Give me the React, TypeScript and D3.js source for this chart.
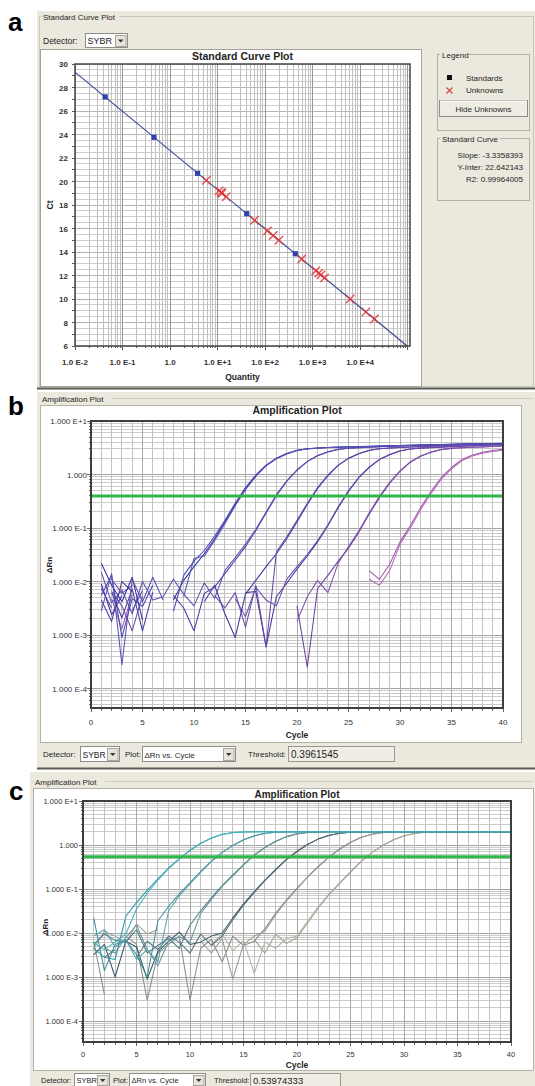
import React from 'react';
import * as d3 from 'd3';

const _ = null;

// ---------- Panel a : standard curve ----------
const stdQuantity = [0.043, 0.46, 3.8, 41, 432];
const stdCt = [27.2, 23.76, 20.7, 17.26, 13.85];
const unkQuantity = [5.8, 10.8, 11.9, 12.4, 15.2, 60, 112, 148, 195, 590, 1170, 1350, 1500, 1780, 6150, 13200, 19900];
const unkCt = [20.1, 19.2, 19.06, 19.0, 18.7, 16.7, 15.8, 15.4, 15.0, 13.4, 12.4, 12.2, 12.05, 11.8, 10.0, 8.9, 8.3];
const fitSlope = -3.3358393;
const fitIntercept = 22.642143;
const fitR2 = 0.99964005;
const ctTicks = [6, 8, 10, 12, 14, 16, 18, 20, 22, 24, 26, 28, 30];
const qtyTicks = [1e-2, 1e-1, 1, 1e1, 1e2, 1e3, 1e4];
const qtyTickLabels = ['1.0 E-2', '1.0 E-1', '1.0', '1.0 E+1', '1.0 E+2', '1.0 E+3', '1.0 E+4'];

// ---------- Amplification plots (ΔRn per cycle 1..40; null = not shown) ----------
const cycleTicks = [0, 5, 10, 15, 20, 25, 30, 35, 40];
const drnTicks = [10, 1, 0.1, 0.01, 0.001, 0.0001];
const drnTickLabels = ['1.000 E+1', '1.000', '1.000 E-1', '1.000 E-2', '1.000 E-3', '1.000 E-4'];
const thresholdB = 0.3961545;
const thresholdC = 0.53974333;

const b1a = [0.022,0.0085,0.0042,0.012,0.0019,_,_,0.0045,0.0105,0.019,0.033,0.063,0.13,0.275,0.55,0.95,1.48,2.0,2.45,2.82,3.02,3.12,3.2,3.24,3.28,3.31,3.35,3.39,3.43,3.47,3.5,3.55,3.58,3.63,3.67,3.7,3.72,3.75,3.78,3.8];
const b1b = [0.0055,0.013,0.0009,0.0048,0.0034,0.0085,_,0.0028,0.013,0.024,0.038,0.07,0.14,0.29,0.57,0.98,1.5,2.02,2.48,2.84,3.04,3.14,3.21,3.25,3.29,3.33,3.37,3.41,3.45,3.49,3.53,3.56,3.6,3.64,3.68,3.71,3.74,3.77,3.8,3.83];
const b1c = [0.0028,0.014,0.00028,0.011,0.0042,0.012,0.0045,_,0.0052,0.027,0.03,0.058,0.12,0.26,0.52,0.92,1.45,1.96,2.42,2.8,3.0,3.1,3.18,3.22,3.26,3.3,3.34,3.38,3.42,3.45,3.49,3.53,3.56,3.6,3.64,3.68,3.7,3.73,3.76,3.79];
const b2a = [_,0.0062,0.0021,0.0072,0.0012,0.0063,_,0.0055,0.0032,0.0012,0.006,0.0079,0.014,0.025,0.045,0.089,0.19,0.4,0.74,1.2,1.74,2.24,2.63,2.95,3.09,3.16,3.24,3.3,3.36,3.42,3.47,3.52,3.56,3.6,3.64,3.67,3.7,3.72,3.74,3.76];
const b2b = [0.015,0.004,0.007,0.0025,0.01,0.0045,0.0052,0.011,0.0058,0.0035,0.0095,0.0048,0.016,0.028,0.05,0.095,0.2,0.42,0.76,1.22,1.76,2.26,2.65,2.96,3.1,3.18,3.25,3.31,3.37,3.43,3.48,3.53,3.57,3.61,3.65,3.68,3.71,3.73,3.75,3.77];
const b3a = [0.009,0.0024,0.0055,_,0.0015,_,_,_,_,_,0.0042,0.0085,0.0025,0.0009,0.0058,0.0105,0.019,0.033,0.063,0.13,0.275,0.55,0.95,1.48,2.0,2.45,2.82,3.02,3.12,3.2,3.26,3.32,3.38,3.44,3.5,3.55,3.6,3.64,3.68,3.72];
const b3b = [_,0.011,0.006,0.0085,_,0.0035,_,_,0.0028,_,_,0.0055,0.0032,0.0062,0.0014,0.0085,0.0006,0.036,0.068,0.14,0.29,0.57,0.98,1.5,2.02,2.47,2.83,3.03,3.13,3.21,3.27,3.33,3.39,3.45,3.51,3.56,3.61,3.65,3.69,3.73];
const b4a = [0.0045,0.0018,0.01,0.0065,_,_,_,_,_,_,_,_,_,_,0.0062,0.0065,0.0006,0.0052,0.0093,0.017,0.03,0.055,0.11,0.24,0.48,0.87,1.35,1.9,2.34,2.75,2.99,3.11,3.18,3.25,3.32,3.38,3.44,3.5,3.55,3.6];
const b4b = [_,0.0065,0.0035,0.0012,0.0055,_,_,_,_,_,_,_,_,0.0048,0.0022,0.0078,0.0045,0.0035,0.011,0.019,0.032,0.058,0.115,0.25,0.5,0.89,1.37,1.92,2.36,2.77,3.0,3.12,3.19,3.26,3.33,3.39,3.45,3.51,3.56,3.61];
const b5a = [0.0075,0.0032,_,0.0028,0.0068,_,_,_,_,_,_,_,_,_,_,_,_,_,_,0.0035,0.00025,0.0074,0.013,0.024,0.042,0.083,0.18,0.37,0.69,1.15,1.7,2.19,2.6,2.92,3.08,3.15,3.22,3.28,3.34,3.4];
const b5b = [_,_,_,_,_,_,_,_,_,_,_,_,_,_,_,_,_,_,_,0.0018,0.0052,0.0105,0.0062,0.022,0.045,0.088,0.19,0.39,0.71,1.17,1.72,2.21,2.62,2.93,3.09,3.16,3.23,3.29,3.35,3.41];
const b6a = [_,0.0048,0.0013,0.0058,_,0.012,_,_,_,_,_,_,_,_,_,_,_,_,_,_,_,_,_,_,_,_,0.016,0.011,0.021,0.055,0.11,0.24,0.48,0.87,1.35,1.9,2.3,2.6,2.8,2.95];
const b6b = [_,_,_,_,_,_,_,_,_,_,_,_,_,_,_,_,_,_,_,_,_,_,_,_,_,_,0.011,0.0085,0.016,0.05,0.1,0.22,0.44,0.82,1.28,1.8,2.22,2.5,2.7,2.85];

const c1a = [0.0045,0.0028,0.0025,0.024,0.049,0.093,0.17,0.3,0.49,0.76,1.1,1.45,1.75,1.92,1.98,2.0,2.01,2.0,2.0,2.01,2.01,2.0,2.0,2.01,2.01,2.0,2.0,2.01,2.01,2.0,2.0,2.01,2.01,2.0,2.0,2.01,2.01,2.0,2.0,2.01];
const c1b = [0.006,0.0042,0.0062,0.0095,0.035,0.08,0.16,0.29,0.48,0.75,1.08,1.43,1.73,1.91,1.97,1.99,2.0,2.02,2.0,1.99,2.0,2.01,2.0,1.99,2.0,2.01,2.02,2.0,1.99,2.0,2.01,2.0,1.99,2.0,2.01,2.0,1.99,2.0,2.01,2.0];
const c2a = [0.022,0.0014,0.0055,0.0068,0.0032,0.001,0.019,0.04,0.078,0.14,0.25,0.43,0.68,0.98,1.32,1.62,1.84,1.95,1.99,2.0,2.0,2.01,2.0,2.0,2.01,2.0,2.0,2.01,2.0,2.0,2.01,2.0,2.0,2.01,2.0,2.0,2.01,2.0,2.0,2.01];
const c2b = [0.0085,0.012,0.0048,0.0072,0.0025,0.0042,0.0022,0.032,0.07,0.13,0.24,0.42,0.67,0.97,1.3,1.6,1.83,1.94,1.98,1.99,2.0,1.99,2.01,2.0,1.99,2.0,1.99,2.01,2.0,1.99,2.0,1.99,2.01,2.0,1.99,2.0,1.99,2.01,2.0,1.99];
const c3a = [0.0055,0.0095,0.0068,0.0062,0.012,0.0035,0.0052,0.0075,0.0045,0.015,0.032,0.063,0.12,0.21,0.36,0.59,0.88,1.22,1.55,1.8,1.93,1.98,2.0,2.0,2.01,2.0,2.0,2.01,2.0,2.0,2.01,2.0,2.0,2.01,2.0,2.0,2.01,2.0,2.0,2.01];
const c3b = [_,0.0045,0.0035,0.008,0.015,0.0042,0.0018,0.0065,0.0082,0.0062,0.028,0.058,0.115,0.2,0.35,0.58,0.87,1.2,1.53,1.79,1.92,1.97,1.99,2.0,1.99,2.01,2.0,1.99,2.0,1.99,2.01,2.0,1.99,2.0,1.99,2.01,2.0,1.99,2.0,1.99];
const c4a = [0.0032,0.0055,0.001,0.0065,0.0048,0.0009,0.0038,0.0065,0.0105,0.0055,0.0062,0.0085,0.01,0.022,0.046,0.087,0.16,0.28,0.47,0.72,1.04,1.38,1.67,1.86,1.96,1.99,2.0,2.0,2.01,2.0,2.0,2.01,2.0,2.0,2.01,2.0,2.0,2.01,2.0,2.0];
const c4b = [_,0.0028,0.0042,_,0.0028,0.0065,0.0042,0.0085,0.0062,0.0035,0.0095,0.0052,0.0085,0.02,0.043,0.083,0.155,0.27,0.46,0.71,1.02,1.36,1.65,1.85,1.95,1.98,1.99,2.0,1.99,2.01,2.0,1.99,2.0,1.99,2.01,2.0,1.99,2.0,1.99,2.01];
const c5a = [0.0065,0.0004,_,0.0085,0.0055,0.0003,0.0035,0.0055,0.0085,0.0003,0.0045,0.0072,0.0022,0.0085,0.0052,0.0065,0.0126,0.028,0.056,0.105,0.19,0.33,0.54,0.82,1.16,1.5,1.76,1.92,1.98,2.0,2.0,2.01,2.0,2.0,2.01,2.0,2.0,2.01,2.0,2.0];
const c5b = [0.0045,0.011,0.0085,0.006,0.016,0.0095,0.012,_,_,_,0.0065,0.0035,0.0075,0.0009,0.0055,0.0085,0.011,0.026,0.053,0.1,0.185,0.32,0.53,0.8,1.14,1.48,1.75,1.91,1.97,1.99,2.0,1.99,2.01,2.0,1.99,2.0,1.99,2.01,2.0,1.99];
const c6a = [_,_,_,_,_,_,_,_,_,_,_,0.0055,0.0095,0.004,0.0068,0.0012,0.0062,0.0045,0.0075,0.0085,0.019,0.04,0.078,0.14,0.25,0.43,0.68,0.98,1.32,1.62,1.84,1.95,1.99,2.0,2.0,2.01,2.0,2.0,2.01,2.0];
const c6b = [_,_,_,_,_,_,_,_,_,_,_,_,_,_,_,0.0072,0.0035,0.0095,0.0058,0.0078,0.017,0.037,0.074,0.135,0.24,0.42,0.67,0.97,1.3,1.6,1.83,1.94,1.98,1.99,2.0,1.99,2.01,2.0,1.99,2.0];

const curvesB = [
  { values: b6a, color: '#a456ac' }, { values: b6b, color: '#b46cb8' },
  { values: b5a, color: '#6a40a2' }, { values: b5b, color: '#8050aa' },
  { values: b4a, color: '#4b36a0' }, { values: b4b, color: '#6e4aaa' },
  { values: b3a, color: '#3c34a0' }, { values: b3b, color: '#6a48a8' },
  { values: b2a, color: '#4a3ca6' }, { values: b2b, color: '#6250b0' },
  { values: b1a, color: '#3232a6' }, { values: b1b, color: '#4646b4' }, { values: b1c, color: '#5a52b4' },
];
const curvesC = [
  { values: c6a, color: '#b4b4a4' }, { values: c6b, color: '#a4a496' },
  { values: c5a, color: '#888c86' }, { values: c5b, color: '#9a9c94' },
  { values: c4a, color: '#3a5a68' }, { values: c4b, color: '#566e7a' },
  { values: c3a, color: '#4a7c88' }, { values: c3b, color: '#6a949c' },
  { values: c2a, color: '#3a8c98' }, { values: c2b, color: '#58a4ac' },
  { values: c1a, color: '#2a9aa6' }, { values: c1b, color: '#48b2ba' },
];

const FONT = "'Liberation Sans', Arial, 'DejaVu Sans', sans-serif";
const BG = '#ebe9dd';
const INK = '#1e1e1e';

function Dropdown({ x, y, w, h, text, size, arrow = true }: any) {
  return (
    <g>
      <rect x={x + 0.5} y={y + 0.5} width={w} height={h} fill="#fff" stroke="#8c8c88" />
      <text x={x + 2.5} y={y + h - 3.5} fontSize={size} fill={INK}>{text}</text>
      {arrow && (
        <g>
          <rect x={x + w - 11.5} y={y + 2.5} width={10.5} height={h - 3} fill="#e6e4d8" stroke="#a8a69c" />
          <path d={`M${x + w - 9},${y + h / 2 - 0.5} h5.5 l-2.75,3 z`} fill="#333" />
        </g>
      )}
    </g>
  );
}

function PanelA() {
  const L = 75, R = 410, T = 64, B = 346;
  const qMax = 1.12e5;
  const x = d3.scaleLog().domain([1e-2, qMax]).range([L, R]);
  const y = d3.scaleLinear().domain([6, 30]).range([B, T]);
  const vGrid: { v: number; major: boolean }[] = [];
  for (let d = -2; d <= 5; d++) {
    for (let k = 1; k <= 9; k++) {
      const v = k * Math.pow(10, d);
      if (v >= 1e-2 && v <= qMax) vGrid.push({ v, major: k === 1 });
    }
  }
  const hGrid = d3.range(6, 30.01, 0.5);
  const qEnd = Math.pow(10, (6 - fitIntercept) / fitSlope);
  const fit = d3.line()([
    [x(1e-2), y(fitIntercept + fitSlope * Math.log10(1e-2))],
    [x(qEnd), y(6)],
  ] as any);
  return (
    <g>
      <rect x={37} y={11} width={498} height={378} fill={BG} />
      <rect x={39.5} y={16.5} width={494} height={370} fill="none" stroke="#c9c7ba" />
      <rect x={41} y={12} width={78} height={9} fill={BG} />
      <text x={43} y={20} fontSize={8} fill={INK}>Standard Curve Plot</text>
      <text x={43} y={44} fontSize={8.5} fill={INK}>Detector:</text>
      <Dropdown x={85} y={33} w={42} h={14} text="SYBR" size={9} />
      <rect x={40.5} y={49.5} width={381} height={337} fill="#fff" stroke="#a4a29a" />
      <text x={(L + R) / 2} y={60} fontSize={10.5} fontWeight="bold" textAnchor="middle" fill={INK}>Standard Curve Plot</text>
      <g shapeRendering="crispEdges">
        {hGrid.map((c, i) => (
          <line key={'h' + i} x1={L} x2={R} y1={y(c)} y2={y(c)} stroke={c % 2 === 0 ? '#b4b4b4' : '#cecece'} />
        ))}
        {vGrid.map((g, i) => (
          <line key={'v' + i} x1={x(g.v)} x2={x(g.v)} y1={T} y2={B} stroke={g.major ? '#969696' : '#c0c0c0'} />
        ))}
        {d3.range(6, 30.01, 1).map((c, i) => (
          <line key={'yt' + i} x1={L - 3} x2={L} y1={y(c)} y2={y(c)} stroke="#555" />
        ))}
        {vGrid.map((g, i) => (
          <line key={'xt' + i} x1={x(g.v)} x2={x(g.v)} y1={B} y2={B + (g.major ? 4 : 2)} stroke="#555" />
        ))}
      </g>
      <path d={fit || ''} stroke="#34449a" strokeWidth={1.1} fill="none" />
      {stdQuantity.map((q, i) => (
        <rect key={'s' + i} x={x(q) - 2.6} y={y(stdCt[i]) - 2.6} width={5.2} height={5.2} fill="#3040a8" />
      ))}
      {unkQuantity.map((q, i) => {
        const cx = x(q), cy = y(unkCt[i]), r = 4.2;
        return (
          <path key={'u' + i} d={`M${cx - r},${cy - r}L${cx + r},${cy + r}M${cx - r},${cy + r}L${cx + r},${cy - r}`}
            stroke="#e03434" strokeOpacity={0.85} strokeWidth={1.4} fill="none" />
        );
      })}
      <rect x={L} y={T} width={R - L} height={B - T} fill="none" stroke="#505050" strokeWidth={1.6} />
      {ctTicks.map((c) => (
        <text key={'yl' + c} x={68} y={y(c) + 3} fontSize={8} fontWeight="bold" textAnchor="end" fill="#333">{c}</text>
      ))}
      {qtyTicks.map((q, i) => (
        <text key={'xl' + i} x={x(q)} y={365} fontSize={8} fontWeight="bold" textAnchor="middle" fill="#333">{qtyTickLabels[i]}</text>
      ))}
      <text x={(L + R) / 2} y={380} fontSize={8.5} fontWeight="bold" textAnchor="middle" fill={INK}>Quantity</text>
      <text transform={`translate(53,${(T + B) / 2}) rotate(-90)`} fontSize={8.5} fontWeight="bold" textAnchor="middle" fill={INK}>Ct</text>

      {/* Legend group */}
      <rect x={437.5} y={54.5} width={92} height={76} fill="none" stroke="#b2b0a4" />
      <rect x={440} y={50} width={29} height={9} fill={BG} />
      <text x={442} y={57.5} fontSize={8} fill={INK}>Legend</text>
      <rect x={447} y={75} width={5} height={5} fill="#111" />
      <text x={466} y={80.5} fontSize={8} fill={INK}>Standards</text>
      <path d="M446.5,87.5l6,6M446.5,93.5l6,-6" stroke="#d84040" strokeWidth={1.1} fill="none" />
      <text x={466} y={93} fontSize={8} fill={INK}>Unknowns</text>
      <rect x={439.5} y={100.5} width={88} height={16} fill="#efede3" stroke="#8e8c84" />
      <line x1={440} y1={101} x2={527} y2={101} stroke="#fff" />
      <text x={483.5} y={111.5} fontSize={8} textAnchor="middle" fill={INK}>Hide Unknowns</text>

      {/* Standard curve group */}
      <rect x={437.5} y={138.5} width={92} height={62} fill="none" stroke="#b2b0a4" />
      <rect x={440} y={134} width={60} height={9} fill={BG} />
      <text x={442} y={141.5} fontSize={8} fill={INK}>Standard Curve</text>
      <text x={523} y={158} fontSize={8} textAnchor="end" fill={INK}>{`Slope: ${fitSlope}`}</text>
      <text x={523} y={170} fontSize={8} textAnchor="end" fill={INK}>{`Y-Inter: ${fitIntercept}`}</text>
      <text x={523} y={182} fontSize={8} textAnchor="end" fill={INK}>{`R2: ${fitR2}`}</text>

      <line x1={37} x2={535} y1={388.5} y2={388.5} stroke="#5a5a52" strokeWidth={2} />
    </g>
  );
}

function AmpPanel({ cfg, curves, threshold }: any) {
  const { L, R, T, B } = cfg;
  const x = d3.scaleLinear().domain([0, 40]).range([L, R]);
  const y = d3.scaleLog().domain([Math.pow(10, cfg.yMinExp), 10]).range([B, T]);
  const yMin = Math.pow(10, cfg.yMinExp);
  const hGrid: { v: number; major: boolean }[] = [];
  for (let d = -5; d <= 0; d++) {
    for (let k = 1; k <= 9; k++) {
      const v = k * Math.pow(10, d);
      if (v >= yMin && v <= 10) hGrid.push({ v, major: k === 1 });
    }
  }
  hGrid.push({ v: 10, major: true });
  const line = d3.line<any>()
    .defined((d: any) => d[1] != null && d[1] > 0)
    .x((d: any) => x(d[0]))
    .y((d: any) => y(d[1]));
  const clipId = 'clip' + cfg.id;
  return (
    <g>
      <rect x={cfg.px} y={cfg.py} width={cfg.pw} height={cfg.ph} fill={BG} />
      <line x1={cfg.px + 2} x2={cfg.px + cfg.pw - 2} y1={cfg.headerY - 3.5} y2={cfg.headerY - 3.5} stroke="#cfcdc0" />
      <rect x={cfg.px + 3} y={cfg.headerY - 8} width={72} height={10} fill={BG} />
      <text x={cfg.px + 5} y={cfg.headerY} fontSize={8} fill={INK}>Amplification Plot</text>
      <rect x={cfg.wx + 0.5} y={cfg.wy + 0.5} width={cfg.ww} height={cfg.wh} fill="#fff" stroke="#b4b2a8" />
      <text x={cfg.titleX} y={cfg.titleY} fontSize={cfg.titleSize} fontWeight="bold" textAnchor="middle" fill={INK}>Amplification Plot</text>
      <defs>
        <clipPath id={clipId}>
          <rect x={L} y={T} width={R - L} height={B - T} />
        </clipPath>
      </defs>
      <g shapeRendering="crispEdges">
        {hGrid.map((g, i) => (
          <line key={'h' + i} x1={L} x2={R} y1={y(g.v)} y2={y(g.v)} stroke={g.major ? '#a2a2a2' : '#cacaca'} />
        ))}
        {d3.range(1, 40).map((c) => (
          <line key={'v' + c} x1={x(c)} x2={x(c)} y1={T} y2={B} stroke={c % 5 === 0 ? '#aaaaaa' : '#c2c2c2'} />
        ))}
        {hGrid.map((g, i) => (
          <line key={'yt' + i} x1={L - (g.major ? 4 : 2.5)} x2={L} y1={y(g.v)} y2={y(g.v)} stroke="#666" />
        ))}
        {d3.range(0, 41).map((c) => (
          <line key={'xt' + c} x1={x(c)} x2={x(c)} y1={B} y2={B + (c % 5 === 0 ? 4 : 2.5)} stroke="#666" />
        ))}
      </g>
      <g clipPath={`url(#${clipId})`}>
        {curves.map((cv: any, i: number) => (
          <path key={'c' + i} d={line(cv.values.map((v: any, j: number) => [j + 1, v])) || ''}
            stroke={cv.color} strokeWidth={1.05} fill="none" strokeLinejoin="round" />
        ))}
        <line x1={L} x2={R} y1={y(threshold)} y2={y(threshold)} stroke="#2fb84a" strokeWidth={3} />
      </g>
      <rect x={L} y={T} width={R - L} height={B - T} fill="none" stroke="#3e3e3e" strokeWidth={2} />
      {drnTicks.map((v, i) => (
        <text key={'yl' + i} x={cfg.labelX} y={y(v) + 3} fontSize={cfg.labelSize} textAnchor="end" fill="#333">{drnTickLabels[i]}</text>
      ))}
      {cycleTicks.map((c) => (
        <text key={'xl' + c} x={x(c)} y={cfg.xLabelY} fontSize={cfg.labelSize} textAnchor="middle" fill="#333">{c}</text>
      ))}
      <text x={(L + R) / 2} y={cfg.cycleY} fontSize={8.5} fontWeight="bold" textAnchor="middle" fill={INK}>Cycle</text>
      <text transform={`translate(${cfg.yTitleX},${cfg.yTitleY}) rotate(-90)`} fontSize={8} fontWeight="bold" textAnchor="middle" fill={INK}>ΔRn</text>

      <text x={cfg.det[0]} y={cfg.barText} fontSize={cfg.barSize} fill={INK}>Detector:</text>
      <Dropdown x={cfg.det[1]} y={cfg.barY} w={cfg.det[2]} h={cfg.barH} text="SYBR" size={cfg.ddSize} />
      <text x={cfg.plot[0]} y={cfg.barText} fontSize={cfg.barSize} fill={INK}>Plot:</text>
      <Dropdown x={cfg.plot[1]} y={cfg.barY} w={cfg.plot[2]} h={cfg.barH} text="ΔRn vs. Cycle" size={cfg.barSize} />
      <text x={cfg.thr[0]} y={cfg.barText} fontSize={cfg.barSize} fill={INK}>Threshold:</text>
      <rect x={cfg.thr[1] + 0.5} y={cfg.barY + 0.5} width={cfg.thr[2]} height={cfg.barH} fill="#efede4" stroke="#9a988e" />
      <text x={cfg.thr[1] + 3} y={cfg.barText + 0.5} fontSize={cfg.thrSize} fill={INK}>{String(threshold)}</text>
      {cfg.bottomLine && (
        <line x1={cfg.px} x2={cfg.px + cfg.pw} y1={cfg.py + cfg.ph - 0.5} y2={cfg.py + cfg.ph - 0.5} stroke="#5a5a52" strokeWidth={2} />
      )}
    </g>
  );
}

const cfgB = {
  id: 'B', px: 37, py: 392, pw: 498, ph: 377, headerY: 402,
  wx: 40, wy: 405, ww: 481, wh: 337,
  L: 91, R: 503, T: 421, B: 708, yMinExp: -4.364,
  titleX: 297, titleY: 414, titleSize: 10.5,
  labelX: 87, labelSize: 8, yTitleX: 52, yTitleY: 565,
  xLabelY: 725, cycleY: 738,
  barY: 746, barH: 15, barText: 757, barSize: 8, ddSize: 8.5,
  det: [43, 80, 39], plot: [125, 142, 93], thr: [248, 288, 106], thrSize: 10, bottomLine: true,
};
const cfgC = {
  id: 'C', px: 30, py: 772, pw: 505, ph: 314, headerY: 785,
  wx: 33, wy: 788, ww: 500, wh: 282,
  L: 83, R: 511, T: 801, B: 1042, yMinExp: -4.477,
  titleX: 297, titleY: 798, titleSize: 10,
  labelX: 78, labelSize: 7.5, yTitleX: 48, yTitleY: 927,
  xLabelY: 1057, cycleY: 1068,
  barY: 1073, barH: 13, barText: 1083, barSize: 7.5, ddSize: 7.5,
  det: [41, 74, 35], plot: [113, 129, 76], thr: [214, 250, 90], thrSize: 9.5, bottomLine: false,
};

export default function App() {
  return (
    <svg width={535} height={1086} viewBox="0 0 535 1086"
      style={{ position: 'absolute', left: 0, top: 0, fontFamily: FONT }}>
      <rect width={535} height={1086} fill="#fff" />
      <PanelA />
      <AmpPanel cfg={cfgB} curves={curvesB} threshold={thresholdB} />
      <AmpPanel cfg={cfgC} curves={curvesC} threshold={thresholdC} />
      <text x={8} y={31} fontSize={26} fontWeight="bold" fill="#000">a</text>
      <text x={8} y={415} fontSize={26} fontWeight="bold" fill="#000">b</text>
      <text x={9} y={800} fontSize={26} fontWeight="bold" fill="#000">c</text>
    </svg>
  );
}
